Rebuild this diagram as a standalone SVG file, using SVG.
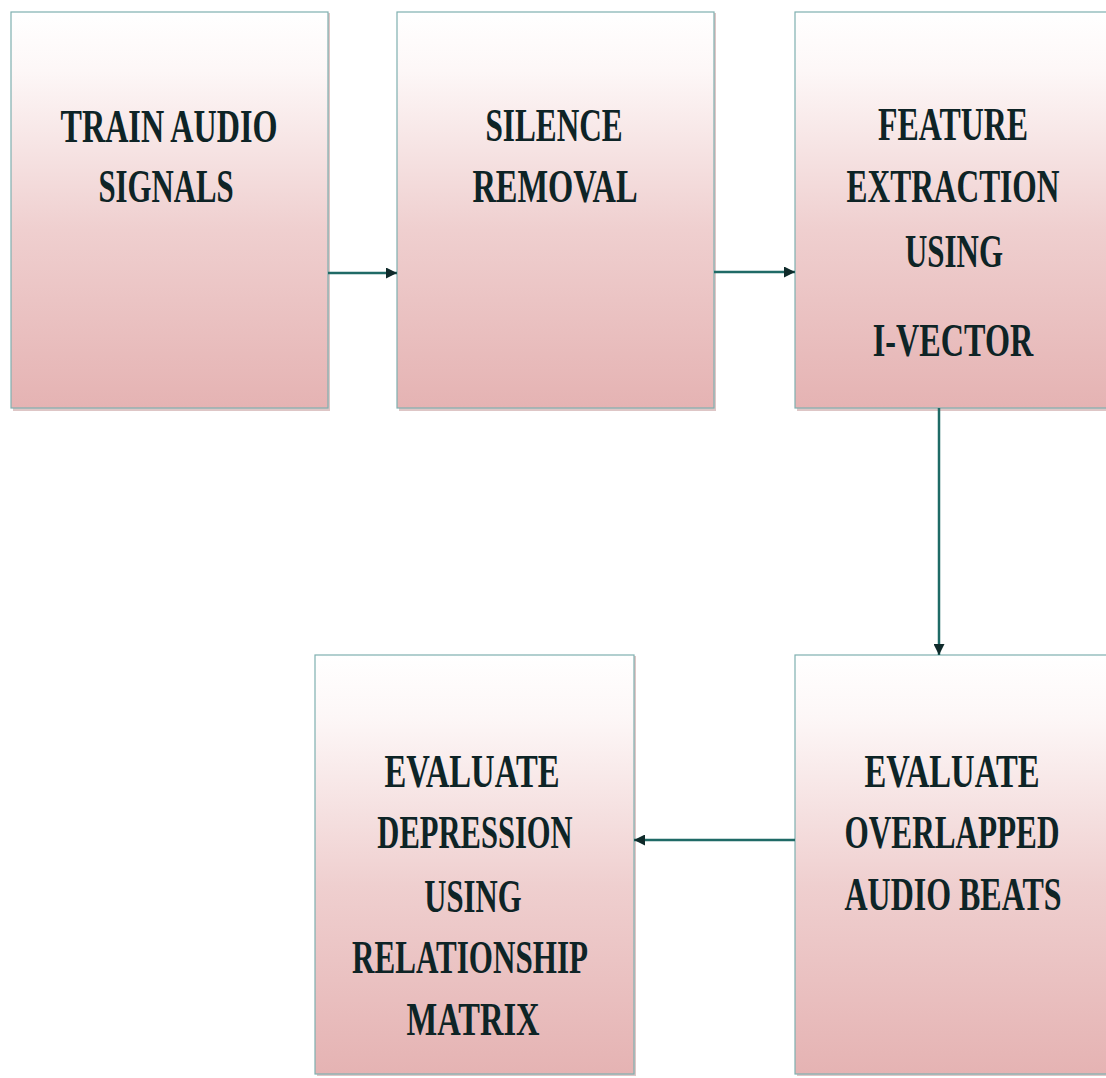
<svg xmlns="http://www.w3.org/2000/svg" width="1106" height="1078" viewBox="0 0 1106 1078">
<defs>
<linearGradient id="g" x1="0" y1="0" x2="0" y2="1">
<stop offset="0" stop-color="#ffffff"/>
<stop offset="0.15" stop-color="#fdf7f7"/>
<stop offset="0.55" stop-color="#efcfcf"/>
<stop offset="1" stop-color="#e5b3b3"/>
</linearGradient>
<marker id="ah" viewBox="0 0 10 10" refX="10" refY="5" markerWidth="12" markerHeight="11" markerUnits="userSpaceOnUse" orient="auto">
<path d="M0,0 L10,5 L0,10 z" fill="#0f2a2a"/>
</marker>
</defs>
<style>
.box{fill:url(#g);stroke:#7fb0b0;stroke-width:1.2}
.sh{fill:#c8a0a0;opacity:0.6}
.t{font-family:"Liberation Serif","Times New Roman",serif;font-weight:bold;font-size:46px;fill:#0e2426;text-anchor:middle}
.c{stroke:#1f6a66;stroke-width:2.5;fill:none}
</style>
<rect width="1106" height="1078" fill="#ffffff"/>
<g id="n1">
<rect class="sh" x="13" y="13" width="317" height="398"/>
<rect class="box" x="11" y="12" width="317" height="396"/>
<text class="t" transform="translate(169,142) scale(0.7,1)" textLength="310" lengthAdjust="spacingAndGlyphs">TRAIN AUDIO</text>
<text class="t" transform="translate(166,202) scale(0.7,1)" textLength="193" lengthAdjust="spacingAndGlyphs">SIGNALS</text>
</g>
<g id="n2">
<rect class="sh" x="399" y="13" width="317" height="398"/>
<rect class="box" x="397" y="12" width="317" height="396"/>
<text class="t" transform="translate(554,141) scale(0.7,1)" textLength="196" lengthAdjust="spacingAndGlyphs">SILENCE</text>
<text class="t" transform="translate(555,202) scale(0.7,1)" textLength="236" lengthAdjust="spacingAndGlyphs">REMOVAL</text>
</g>
<g id="n3">
<rect class="sh" x="797" y="13" width="309" height="398"/>
<rect class="box" x="795" y="12" width="312" height="396"/>
<text class="t" transform="translate(953,140) scale(0.7,1)" textLength="214" lengthAdjust="spacingAndGlyphs">FEATURE</text>
<text class="t" transform="translate(953,202) scale(0.7,1)" textLength="304" lengthAdjust="spacingAndGlyphs">EXTRACTION</text>
<text class="t" transform="translate(954,267) scale(0.7,1)" textLength="140" lengthAdjust="spacingAndGlyphs">USING</text>
<text class="t" transform="translate(953,356) scale(0.7,1)" textLength="229" lengthAdjust="spacingAndGlyphs">I-VECTOR</text>
</g>
<g id="n4">
<rect class="sh" x="317" y="656" width="319" height="420"/>
<rect class="box" x="315" y="655" width="319" height="419"/>
<text class="t" transform="translate(472,787) scale(0.7,1)" textLength="250" lengthAdjust="spacingAndGlyphs">EVALUATE</text>
<text class="t" transform="translate(475,848) scale(0.7,1)" textLength="279" lengthAdjust="spacingAndGlyphs">DEPRESSION</text>
<text class="t" transform="translate(473,912) scale(0.7,1)" textLength="139" lengthAdjust="spacingAndGlyphs">USING</text>
<text class="t" transform="translate(470,973) scale(0.7,1)" textLength="337" lengthAdjust="spacingAndGlyphs">RELATIONSHIP</text>
<text class="t" transform="translate(473,1035) scale(0.7,1)" textLength="190" lengthAdjust="spacingAndGlyphs">MATRIX</text>
</g>
<g id="n5">
<rect class="sh" x="797" y="656" width="309" height="420"/>
<rect class="box" x="795" y="655" width="312" height="419"/>
<text class="t" transform="translate(952,787) scale(0.7,1)" textLength="250" lengthAdjust="spacingAndGlyphs">EVALUATE</text>
<text class="t" transform="translate(952,848) scale(0.7,1)" textLength="307" lengthAdjust="spacingAndGlyphs">OVERLAPPED</text>
<text class="t" transform="translate(953,910) scale(0.7,1)" textLength="310" lengthAdjust="spacingAndGlyphs">AUDIO BEATS</text>
</g>
<g id="connectors">
<line class="c" x1="328" y1="273" x2="397" y2="273" marker-end="url(#ah)"/>
<line class="c" x1="714" y1="272" x2="795" y2="272" marker-end="url(#ah)"/>
<line class="c" x1="939" y1="408" x2="939" y2="655" marker-end="url(#ah)"/>
<line class="c" x1="795" y1="840" x2="634" y2="840" marker-end="url(#ah)"/>
</g>
</svg>
